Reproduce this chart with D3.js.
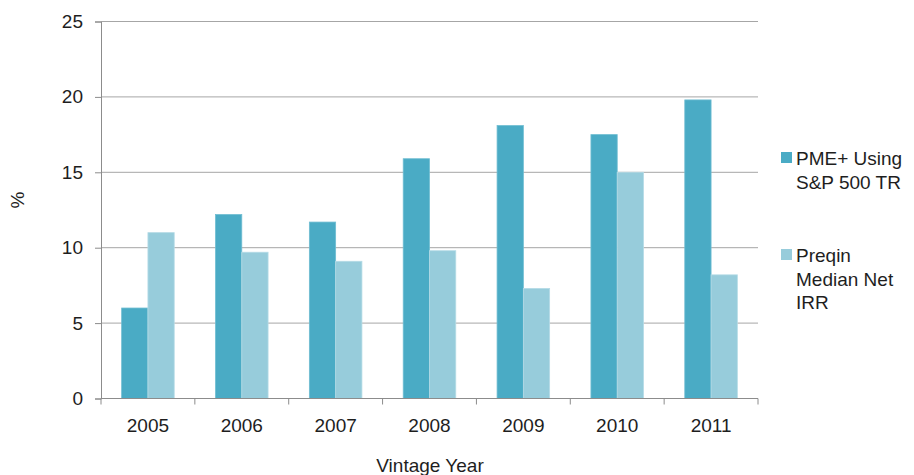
<!DOCTYPE html>
<html>
<head>
<meta charset="utf-8">
<script src="https://cdn.jsdelivr.net/npm/d3@7"></script>
<style>
  body { margin: 0; background: #fff; }
  text { font-family: "Liberation Sans", Arial, sans-serif; fill: #1e1e1e; }
</style>
</head>
<body>
<div id="chart"></div>
<script>
// Vintage years and the two return series (%)
var years = ["2005", "2006", "2007", "2008", "2009", "2010", "2011"];
var seriesNames = ["PME+ Using S&P 500 TR", "Preqin Median Net IRR"];
var pmeValues = [6.0, 12.2, 11.7, 15.9, 18.1, 17.5, 19.8];
var preqinValues = [11.0, 9.7, 9.1, 9.8, 7.3, 15.0, 8.2];
var yTicks = [0, 5, 10, 15, 20, 25];

(function() {
  var margin = { top: 21.5, left: 101, right: 156, bottom: 76.5 },
    width = 914 - margin.left - margin.right,
    height = 475 - margin.top - margin.bottom;

  var colors = ["#4aabc5", "#97ccdb"];
  var fontSize = 19;
  var fontFamily = "'Liberation Sans', Arial, sans-serif";

  var svg = d3.select("#chart")
    .append("svg")
    .attr("width", 914)
    .attr("height", 475);

  var g = svg.append("g")
    .attr("transform", "translate(" + margin.left + "," + margin.top + ")");

  // Scales
  var xScale = d3.scaleBand()
    .domain(years)
    .range([0, width])
    .paddingInner(0.44)
    .paddingOuter(0.22);

  var xSub = d3.scaleBand()
    .domain([0, 1])
    .range([0, xScale.bandwidth()]);

  var yScale = d3.scaleLinear()
    .domain([0, 25])
    .range([height, 0]);

  // Gridlines
  g.selectAll(".grid")
    .data(yTicks.filter(function(d) { return d > 0 }))
    .enter().append("line")
    .attr("x1", 0)
    .attr("x2", width)
    .attr("y1", function(d) { return yScale(d) })
    .attr("y2", function(d) { return yScale(d) })
    .attr("stroke", "#a6a6a6")
    .attr("stroke-width", 1);

  // Bars
  var data = years.map(function(y, i) {
    return { year: y, values: [pmeValues[i], preqinValues[i]] }
  });

  var groups = g.selectAll(".year")
    .data(data)
    .enter().append("g")
    .attr("transform", function(d) { return "translate(" + xScale(d.year) + ",0)" });

  groups.selectAll("rect")
    .data(function(d) { return d.values.map(function(v, k) { return { k: k, v: v } }) })
    .enter().append("rect")
    .attr("x", function(d) { return xSub(d.k) })
    .attr("width", xSub.bandwidth())
    .attr("y", function(d) { return yScale(d.v) })
    .attr("height", function(d) { return height - yScale(d.v) })
    .attr("fill", function(d) { return colors[d.k] })
    .attr("stroke", function(d) { return d.k === 0 ? "#6fbdd2" : "#b5dbe6" })
    .attr("stroke-width", 0.8);

  // Y axis
  var yAxis = g.append("g")
    .call(d3.axisLeft(yScale).tickValues(yTicks).tickSize(6).tickPadding(12));
  yAxis.select(".domain").attr("stroke", "#8c8c8c");
  yAxis.selectAll(".tick line").attr("stroke", "#8c8c8c");
  yAxis.selectAll(".tick text")
    .attr("font-size", fontSize)
    .attr("font-family", fontFamily)
    .attr("fill", "#1e1e1e");

  // X axis: ticks sit between categories
  var xAxisG = g.append("g")
    .attr("transform", "translate(0," + height + ")");
  xAxisG.append("line")
    .attr("x1", 0).attr("x2", width)
    .attr("stroke", "#8c8c8c");
  xAxisG.selectAll(".xtick")
    .data(d3.range(years.length + 1))
    .enter().append("line")
    .attr("x1", function(i) { return i * xScale.step() })
    .attr("x2", function(i) { return i * xScale.step() })
    .attr("y1", 0).attr("y2", 6)
    .attr("stroke", "#8c8c8c");
  xAxisG.selectAll(".xlabel")
    .data(years)
    .enter().append("text")
    .attr("x", function(d) { return xScale(d) + xScale.bandwidth() / 2 })
    .attr("y", 33.5)
    .attr("text-anchor", "middle")
    .attr("font-size", fontSize)
    .text(function(d) { return d });

  // Axis titles
  svg.append("text")
    .attr("transform", "translate(24,200) rotate(-90)")
    .attr("text-anchor", "middle")
    .attr("font-size", fontSize)
    .text("%");

  svg.append("text")
    .attr("x", 430)
    .attr("y", 472)
    .attr("text-anchor", "middle")
    .attr("font-size", fontSize)
    .text("Vintage Year");

  // Legend
  var legendLines = [["PME+ Using", "S&P 500 TR"], ["Preqin", "Median Net", "IRR"]];
  var legendTop = [152, 249];
  legendLines.forEach(function(lines, k) {
    svg.append("rect")
      .attr("x", 781)
      .attr("y", legendTop[k])
      .attr("width", 11)
      .attr("height", 11)
      .attr("fill", colors[k]);
    var t = svg.append("text")
      .attr("x", 796)
      .attr("y", legendTop[k] + 13)
      .attr("font-size", fontSize);
    lines.forEach(function(line, j) {
      t.append("tspan")
        .attr("x", 796)
        .attr("dy", j === 0 ? 0 : 23.5)
        .text(line);
    });
  });
})();
</script>
</body>
</html>
